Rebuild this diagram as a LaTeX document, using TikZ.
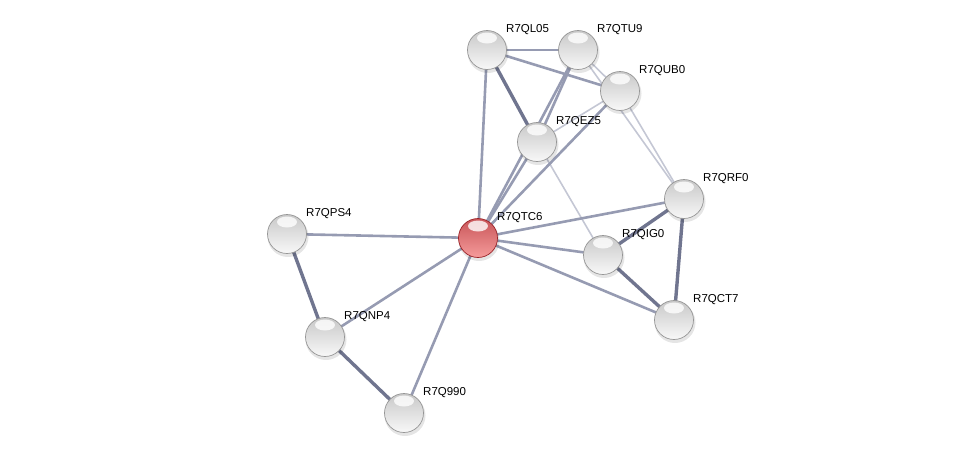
\documentclass[tikz,border=0pt]{standalone}
\usepackage{fontspec}
\setmainfont{Liberation Sans}
\usetikzlibrary{backgrounds}
\definecolor{gtop}{RGB}{200,200,200}
\definecolor{gmid}{RGB}{215,215,215}
\definecolor{gbot}{RGB}{248,248,248}
\definecolor{grim}{RGB}{150,150,150}
\definecolor{rtop}{RGB}{200,85,88}
\definecolor{rmid}{RGB}{215,100,100}
\definecolor{rbot}{RGB}{245,155,155}
\definecolor{rrim}{RGB}{155,35,40}
\tikzset{
  prot/.style={circle, minimum size=39pt, inner sep=0pt, top color=gtop, middle color=gmid, bottom color=gbot, draw=grim, line width=0.7pt},
  qprot/.style={circle, minimum size=39pt, inner sep=0pt, top color=rtop, middle color=rmid, bottom color=rbot, draw=rrim, line width=0.7pt},
  lab/.style={anchor=west, inner sep=0pt, text height=8.5pt, text depth=0pt, font=\fontsize{11.5}{13}\selectfont},
  thickE/.style={draw={rgb,255:red,112;green,117;blue,143}, line width=3.4pt},
  medE/.style={draw={rgb,255:red,150;green,155;blue,178}, line width=2.6pt},
  lightE/.style={draw={rgb,255:red,196;green,199;blue,212}, line width=1.6pt},
  shad/.style={fill=black, opacity=0.10, circle, minimum size=41pt, inner sep=0pt}
}
\newcommand{\protnode}[5]{%
  \node[shad] at (#2+1,#3+2.5) {};
  \node[#5] (#1) at (#2,#3) {};
  \fill[white, opacity=0.8] (#2,#3-12) ellipse (10pt and 5.5pt);
  \node[lab] at (#2+19,#3-22) {#4};
}
\begin{document}
\begin{tikzpicture}[x=1pt,y=-1pt]
\useasboundingbox (0,0) rectangle (975,458);
\protnode{QL05}{487}{50}{R7QL05}{prot}
\protnode{QTU9}{578}{50}{R7QTU9}{prot}
\protnode{QUB0}{620}{91}{R7QUB0}{prot}
\protnode{QEZ5}{537}{142}{R7QEZ5}{prot}
\protnode{QRF0}{684}{199}{R7QRF0}{prot}
\protnode{QTC6}{478}{238}{R7QTC6}{qprot}
\protnode{QPS4}{287}{234}{R7QPS4}{prot}
\protnode{QIG0}{603}{255}{R7QIG0}{prot}
\protnode{QCT7}{674}{320}{R7QCT7}{prot}
\protnode{QNP4}{325}{337}{R7QNP4}{prot}
\protnode{Q990}{404}{413}{R7Q990}{prot}
\begin{scope}[on background layer]
  \draw[lightE] (QTU9.center) -- (QUB0.center);
  \draw[lightE] (QTU9.center) -- (QRF0.center);
  \draw[lightE] (QUB0.center) -- (QRF0.center);
  \draw[lightE] (QUB0.center) -- (QEZ5.center);
  \draw[lightE] (QEZ5.center) -- (QIG0.center);
  \draw[medE] (QL05.center) -- (QTU9.center);
  \draw[medE] (QL05.center) -- (QUB0.center);
  \draw[thickE] (QL05.center) -- (QEZ5.center);
  \draw[medE] (QL05.center) -- (QTC6.center);
  \draw[medE] (QTU9.center) -- (QEZ5.center);
  \draw[medE] (QTU9.center) -- (QTC6.center);
  \draw[medE] (QUB0.center) -- (QTC6.center);
  \draw[medE] (QEZ5.center) -- (QTC6.center);
  \draw[medE] (QTC6.center) -- (QRF0.center);
  \draw[medE] (QTC6.center) -- (QIG0.center);
  \draw[medE] (QTC6.center) -- (QCT7.center);
  \draw[thickE] (QRF0.center) -- (QIG0.center);
  \draw[thickE] (QRF0.center) -- (QCT7.center);
  \draw[thickE] (QIG0.center) -- (QCT7.center);
  \draw[medE] (QTC6.center) -- (QPS4.center);
  \draw[medE] (QTC6.center) -- (QNP4.center);
  \draw[medE] (QTC6.center) -- (Q990.center);
  \draw[thickE] (QPS4.center) -- (QNP4.center);
  \draw[thickE] (QNP4.center) -- (Q990.center);
\end{scope}
\end{tikzpicture}
\end{document}
